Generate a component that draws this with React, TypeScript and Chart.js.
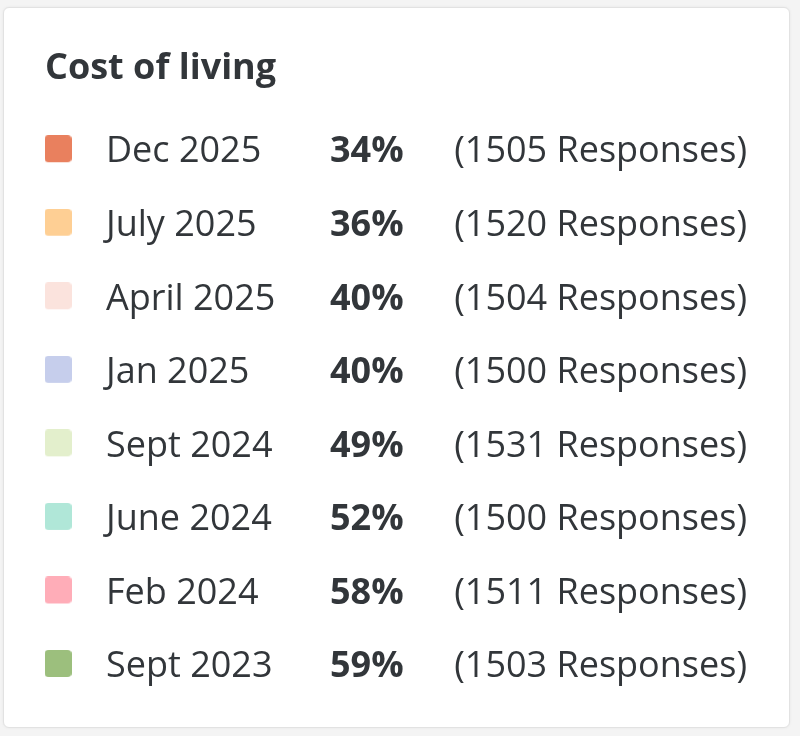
import { useEffect, useRef } from "react";
import { Chart, registerables } from "chart.js";

Chart.register(...registerables);

// Survey waves, newest first
const periods = [
  "Dec 2025",
  "July 2025",
  "April 2025",
  "Jan 2025",
  "Sept 2024",
  "June 2024",
  "Feb 2024",
  "Sept 2023"
];
const shares = [34, 36, 40, 40, 49, 52, 58, 59];
const responses = [1505, 1520, 1504, 1500, 1531, 1500, 1511, 1503];
const swatchColors = [
  "#E9805E",
  "#FECF94",
  "#FBE3DD",
  "#C6CEEC",
  "#E3EFCC",
  "#B0E7D8",
  "#FFADB8",
  "#9CBF7D"
];

const FONT = '"Open Sans", "Noto Sans", sans-serif';
const TEXT = "#32363a";
const SIZE = 36;

// small rounded squares used as point styles (shifted up a bit to sit with the text)
function makeSwatch(color: string) {
  const cv = document.createElement("canvas");
  cv.width = 27;
  cv.height = 34;
  const ctx = cv.getContext("2d");
  if (ctx) {
    ctx.fillStyle = color;
    ctx.beginPath();
    ctx.roundRect(0, 0, 27, 27, 4);
    ctx.fill();
  }
  return cv;
}

// draws the value + response count columns next to each row
const rowTextPlugin = {
  id: "rowText",
  afterDatasetsDraw(chart: any) {
    const { ctx, scales } = chart;
    const y = scales.y;
    ctx.save();
    ctx.fillStyle = TEXT;
    ctx.textBaseline = "middle";
    periods.forEach((_, i) => {
      const py = y.getPixelForValue(i);
      ctx.font = `bold ${SIZE}px ${FONT}`;
      ctx.textAlign = "left";
      ctx.fillText(`${shares[i]}%`, chart.chartArea.right + 259, py);
      ctx.font = `${SIZE}px ${FONT}`;
      ctx.textAlign = "right";
      ctx.fillText(`(${responses[i]} Responses)`, chart.width - 42, py);
    });
    ctx.restore();
  }
};

function LegendCard() {
  const chartRef = useRef<HTMLCanvasElement>(null);
  const chartInstance = useRef<Chart | null>(null);

  useEffect(() => {
    if (!chartRef.current) return;
    if (chartInstance.current) chartInstance.current.destroy();

    const swatches = swatchColors.map(makeSwatch);

    chartInstance.current = new Chart(chartRef.current, {
      type: "scatter",
      data: {
        datasets: [
          {
            label: "Cost of living",
            data: periods.map((_, i) => ({ x: 0, y: i })),
            pointStyle: (c: any) => swatches[c.dataIndex],
            clip: false
          } as any
        ]
      },
      options: {
        animation: false,
        responsive: true,
        maintainAspectRatio: false,
        events: [],
        layout: {
          padding: { left: 41, right: 0, top: 0, bottom: 60 }
        },
        plugins: {
          legend: { display: false },
          tooltip: { enabled: false },
          title: {
            display: true,
            text: "Cost of living",
            align: "start",
            color: TEXT,
            font: { family: FONT, size: SIZE, weight: "bold", lineHeight: 1.2 },
            padding: { top: 39, bottom: 62 }
          }
        },
        scales: {
          x: { type: "linear", min: -1, max: 1, display: false },
          y: {
            type: "category",
            labels: periods,
            position: "right",
            offset: false,
            grid: { display: false, drawTicks: false },
            border: { display: false },
            ticks: {
              autoSkip: false,
              crossAlign: "near",
              padding: 35,
              color: TEXT,
              font: { family: FONT, size: SIZE }
            },
            afterFit: (scale: any) => {
              scale.width = 718;
            }
          } as any
        }
      },
      plugins: [rowTextPlugin]
    });

    return () => {
      if (chartInstance.current) {
        chartInstance.current.destroy();
        chartInstance.current = null;
      }
    };
  }, []);

  return <canvas ref={chartRef} />;
}

export default function App() {
  return (
    <div
      style={{
        position: "absolute",
        left: 0,
        top: 0,
        width: 800,
        height: 736,
        background: "#f4f4f4"
      }}
    >
      <div
        style={{
          position: "absolute",
          left: 3,
          top: 7,
          width: 787,
          height: 721,
          boxSizing: "border-box",
          border: "1px solid #e2e2e2",
          borderRadius: 6,
          background: "#fff",
          boxShadow: "0 0 3px rgba(0,0,0,0.06)"
        }}
      >
        <div style={{ position: "relative", width: 785, height: 719 }}>
          <LegendCard />
        </div>
      </div>
    </div>
  );
}
